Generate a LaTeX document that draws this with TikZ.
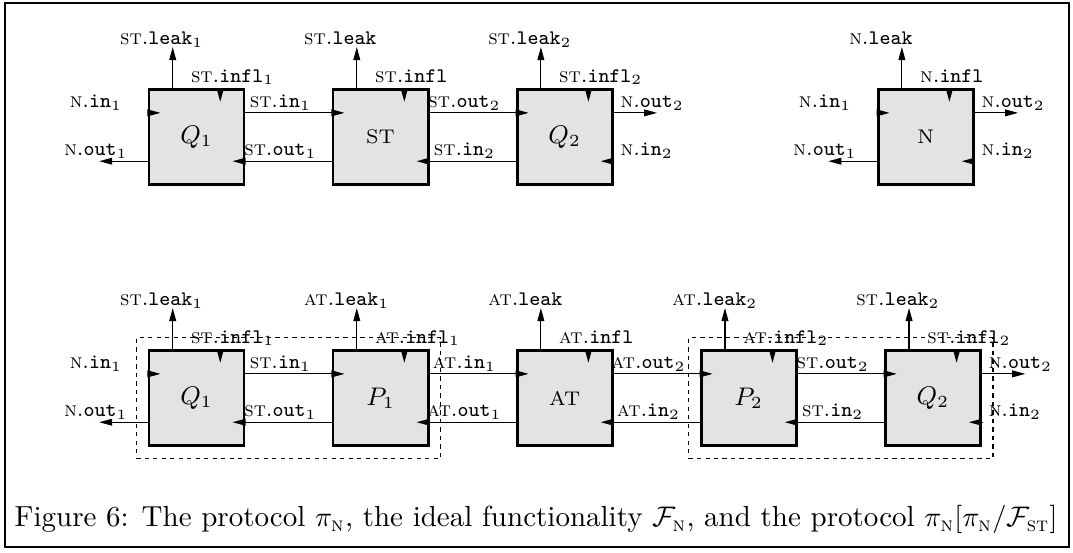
\documentclass[tikz,border=0pt]{standalone}
\usepackage{amsmath,amssymb}
\usepackage{tikz}
\usetikzlibrary{arrows.meta, positioning, calc, fit}

\newcommand{\pname}[2]{\textsc{#1}.\texttt{#2}}

\begin{document}
\begin{tikzpicture}[%
  node distance=1.07cm,
  blk/.style={draw, line width=1pt, fill=gray!22, minimum size=1.18cm, inner sep=0pt, font=\small},
  lbl/.style={font=\fontsize{7.3}{8.5}\selectfont, inner sep=0pt, anchor=base},
  arr/.style={-{Triangle[length=4.6pt, width=2.4pt]}, thin},
  grp/.style={draw, thin, dash pattern=on 1.5pt off 1.5pt, inner sep=0.14cm}
]
\useasboundingbox (-2.439,1.701) rectangle (10.881,-5.152);

% Frame
\draw[line width=1pt] (-2.377,1.663) rectangle (10.832,-5.090);

% Top row: pi_N and F_N
\node[blk] (q1) at (0,0) {$Q_1$};
\node[blk, right=of q1, font=\scriptsize] (st) {ST};
\node[blk, right=of st] (q2) {$Q_2$};
\node[blk, right=3.266cm of q2, font=\scriptsize] (n) {N};

% Bottom row: pi_N[pi_N/F_ST]
\node[blk, below=2.025cm of q1] (bq1) {$Q_1$};
\node[blk, right=of bq1] (bp1) {$P_1$};
\node[blk, right=of bp1, font=\scriptsize] (bat) {AT};
\node[blk, right=of bat] (bp2) {$P_2$};
\node[blk, right=of bp2] (bq2) {$Q_2$};

% Dashed groups
\node[grp, fit=(bq1)(bp1)] (g1) {};
\node[grp, fit=(bp2)(bq2)] (g2) {};

% Leak and infl ports
\foreach \b/\lk/\fl in {%
  q1/{\pname{st}{leak}$_1$}/{\pname{st}{infl}$_1$},
  st/{\pname{st}{leak}}/{\pname{st}{infl}},
  q2/{\pname{st}{leak}$_2$}/{\pname{st}{infl}$_2$},
  n/{\pname{n}{leak}}/{\pname{n}{infl}},
  bq1/{\pname{st}{leak}$_1$}/{\pname{st}{infl}$_1$},
  bp1/{\pname{at}{leak}$_1$}/{\pname{at}{infl}$_1$},
  bat/{\pname{at}{leak}}/{\pname{at}{infl}},
  bp2/{\pname{at}{leak}$_2$}/{\pname{at}{infl}$_2$},
  bq2/{\pname{st}{leak}$_2$}/{\pname{st}{infl}$_2$}}{
  \coordinate (\b-lk) at ([xshift=-0.295cm, yshift=0.51cm]\b.north);
  \draw[arr] ([xshift=-0.295cm]\b.north) -- (\b-lk);
  \node[lbl, anchor=base west] (\b-lkt) at ([xshift=-0.66cm, yshift=0.03cm]\b-lk) {\lk};
  \draw[arr] ([xshift=0.295cm]\b.north) -- ([xshift=0.295cm, yshift=-0.17cm]\b.north);
  \node[lbl, anchor=base west] (\b-flt) at ([xshift=-0.075cm, yshift=0.075cm]\b.north) {\fl};
}

% Links between neighbouring boxes
\foreach \a/\b/\up/\dn [count=\k] in {%
  q1/st/{\pname{st}{in}$_1$}/{\pname{st}{out}$_1$},
  st/q2/{\pname{st}{out}$_2$}/{\pname{st}{in}$_2$},
  bq1/bp1/{\pname{st}{in}$_1$}/{\pname{st}{out}$_1$},
  bp1/bat/{\pname{at}{in}$_1$}/{\pname{at}{out}$_1$},
  bat/bp2/{\pname{at}{out}$_2$}/{\pname{at}{in}$_2$},
  bp2/bq2/{\pname{st}{out}$_2$}/{\pname{st}{in}$_2$}}{
  \draw[arr] ([yshift=0.3cm]\a.east) -- node[lbl, xshift=-0.18cm, yshift=0.065cm] (up\k) {\up} ([xshift=0.16cm, yshift=0.3cm]\b.west);
  \draw[arr] ([yshift=-0.3cm]\b.west) -- node[lbl, xshift=-0.02cm, yshift=0.065cm] (dn\k) {\dn} ([xshift=-0.16cm, yshift=-0.3cm]\a.east);
}

% Outer ports, left side
\foreach \a in {q1, n, bq1}{
  \draw[arr] ([yshift=0.3cm]\a.west) -- ([xshift=0.16cm, yshift=0.3cm]\a.west);
  \node[lbl] (\a-in1) at ([xshift=-0.64cm, yshift=0.365cm]\a.west) {\pname{n}{in}$_1$};
  \coordinate (\a-o1) at ([xshift=-0.6cm, yshift=-0.3cm]\a.west);
  \draw[arr] ([yshift=-0.3cm]\a.west) -- (\a-o1);
  \node[lbl] (\a-out1) at ([xshift=-0.64cm, yshift=-0.235cm]\a.west) {\pname{n}{out}$_1$};
}

% Outer ports, right side
\foreach \a in {q2, n, bq2}{
  \coordinate (\a-o2) at ([xshift=0.54cm, yshift=0.3cm]\a.east);
  \draw[arr] ([yshift=0.3cm]\a.east) -- (\a-o2);
  \node[lbl, anchor=base west] (\a-out2) at ([xshift=0.08cm, yshift=0.365cm]\a.east) {\pname{n}{out}$_2$};
  \draw[arr] ([yshift=-0.3cm]\a.east) -- ([xshift=-0.16cm, yshift=-0.3cm]\a.east);
  \node[lbl, anchor=base west] (\a-in2) at ([xshift=0.08cm, yshift=-0.235cm]\a.east) {\pname{n}{in}$_2$};
}

% Caption
\node[anchor=base, font=\fontsize{10.25}{12}\selectfont] (cap) at (4.215,-4.84) {Figure 6: The protocol $\pi_{\text{\textsc{n}}}$, the ideal functionality $\mathcal{F}_{\text{\textsc{n}}}$, and the protocol $\pi_{\text{\textsc{n}}}[\pi_{\text{\textsc{n}}}/\mathcal{F}_{\text{\textsc{st}}}]$};
\end{tikzpicture}
\end{document}
